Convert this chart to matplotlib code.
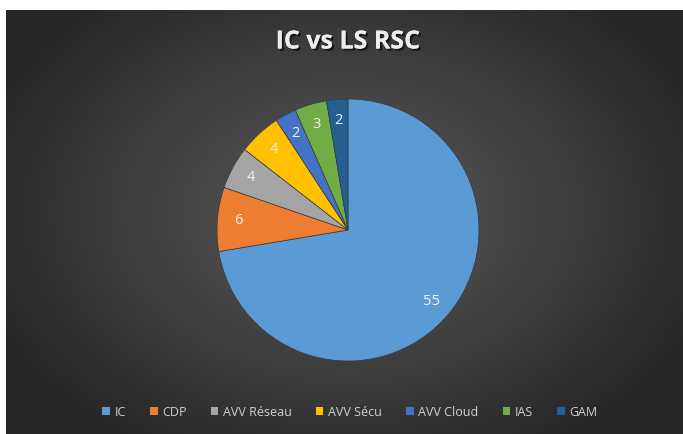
import numpy as np
import matplotlib
matplotlib.use("Agg")
import matplotlib.pyplot as plt
from matplotlib.patches import Rectangle
import matplotlib.patheffects as pe

categories = ["IC", "CDP", "AVV Réseau", "AVV Sécu", "AVV Cloud", "IAS", "GAM"]
values = [55, 6, 4, 4, 2, 3, 2]
colors = ["#5B9BD5", "#ED7D31", "#A5A5A5", "#FFC000", "#4472C4", "#70AD47", "#255E91"]
title = "IC vs LS RSC"

W, H = 683, 434
fig = plt.figure(figsize=(W / 100, H / 100), dpi=100)
fig.patch.set_facecolor("white")

# background with radial gradient
bg = fig.add_axes([6 / W, 0, 1 - 6 / W, 1 - 10 / H])
bg.set_axis_off()
yy, xx = np.mgrid[0:200, 0:300]
cx, cy = 150, 95
r = np.sqrt(((xx - cx) / 170.0) ** 2 + ((yy - cy) / 130.0) ** 2)
r = np.clip(r, 0, 1)
lum = 0.34 - (0.34 - 0.15) * r ** 1.2
img = np.dstack([lum, lum, lum])
bg.imshow(img, aspect="auto", extent=[0, 1, 0, 1], interpolation="bilinear")
bg.set_xlim(0, 1)
bg.set_ylim(0, 1)

# pie
cxp, cyp, rad = 348, 230, 131
ax = fig.add_axes([(cxp - rad) / W, (H - cyp - rad) / H, 2 * rad / W, 2 * rad / H])
ax.set_axis_off()
total = sum(values)
wedges, texts, autotexts = ax.pie(
    values, colors=colors, startangle=90, counterclock=False,
    autopct=lambda p: f"{p * total / 100:.0f}", pctdistance=0.84,
    wedgeprops=dict(edgecolor="#3a3a3a", linewidth=0.5),
    textprops=dict(color="#F2F2F2", fontsize=10.5, family="Open Sans"),
)
ax.set_xlim(-1, 1)
ax.set_ylim(-1, 1)
ax.set_aspect("auto")

# title
fig.text(348 / W, 1 - 42 / H, title, ha="center", va="center", fontsize=18,
         fontweight="bold", family="Open Sans", color="#EDEDED",
         path_effects=[pe.withSimplePatchShadow(offset=(1.5, -1.5), shadow_rgbFace="black", alpha=0.6), pe.Normal()])

# legend
handles = [Rectangle((0, 0), 1, 1, facecolor=c) for c in colors]
fig.legend(handles, categories, loc="center", bbox_to_anchor=(350 / W, 1 - 412 / H),
           ncol=7, frameon=False, handlelength=0.6, handleheight=0.6,
           handletextpad=0.4, columnspacing=1.9, labelcolor="#D0D0D0",
           prop=dict(family="Open Sans", size=9))

fig.savefig("out.png", dpi=100, facecolor=fig.get_facecolor())
